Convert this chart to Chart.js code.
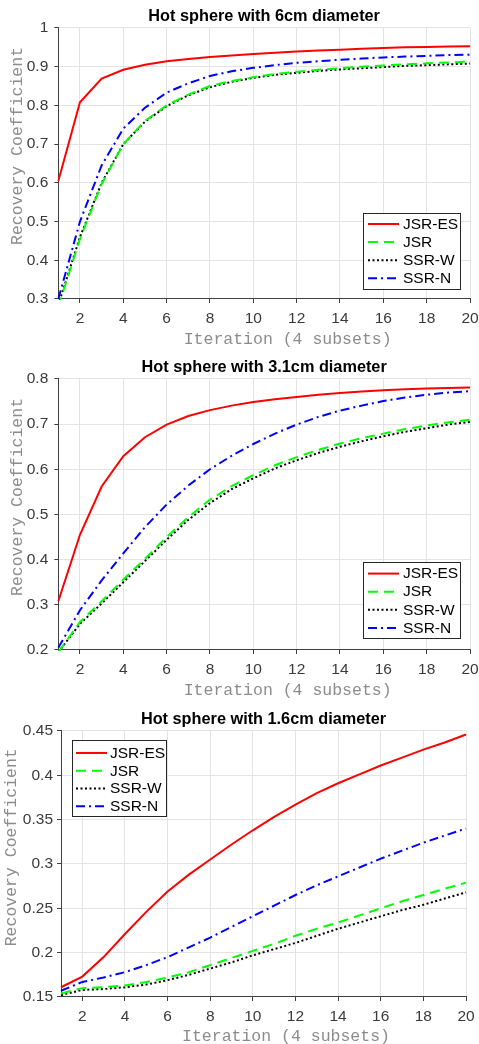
<!DOCTYPE html>
<html><head><meta charset="utf-8">
<script src="https://cdn.jsdelivr.net/npm/chart.js@4.4.1/dist/chart.umd.min.js"></script>
<style>
html,body{margin:0;padding:0;background:#fff;overflow:hidden;width:479px;height:1044px;position:relative;}
canvas{position:absolute;left:0;}
</style></head><body>
<canvas id="c1" width="479" height="350" style="top:0px"></canvas>
<canvas id="c2" width="479" height="350" style="top:351.3px"></canvas>
<canvas id="c3" width="479" height="345" style="top:702.7px"></canvas>
<script>
// ---------- data ----------
const iterations = [1,2,3,4,5,6,7,8,9,10,11,12,13,14,15,16,17,18,19,20];
const xTickValues = [2,4,6,8,10,12,14,16,18,20];
const seriesNames = ['JSR-ES','JSR','SSR-W','SSR-N'];
const chartTitles = ['Hot sphere with 6cm diameter','Hot sphere with 3.1cm diameter','Hot sphere with 1.6cm diameter'];
const xAxisTitle = 'Iteration (4 subsets)';
const yAxisTitle = 'Recovery Coefficient';

// 6 cm sphere
const p1JsrEs = [0.605,0.808,0.869,0.892,0.905,0.914,0.920,0.925,0.929,0.933,0.936,0.939,0.942,0.944,0.946,0.948,0.950,0.951,0.952,0.953];
const p1Jsr   = [0.280,0.455,0.597,0.700,0.760,0.800,0.828,0.850,0.863,0.873,0.881,0.887,0.892,0.896,0.900,0.903,0.906,0.909,0.911,0.913];
const p1SsrW  = [0.285,0.460,0.600,0.700,0.758,0.798,0.826,0.847,0.861,0.871,0.879,0.884,0.889,0.893,0.896,0.899,0.902,0.904,0.906,0.908];
const p1SsrN  = [0.300,0.500,0.645,0.740,0.794,0.833,0.857,0.876,0.888,0.897,0.904,0.910,0.914,0.918,0.921,0.924,0.926,0.928,0.930,0.931];
const p1YTicks = [0.3,0.4,0.5,0.6,0.7,0.8,0.9,1];

// 3.1 cm sphere
const p2JsrEs = [0.308,0.455,0.562,0.629,0.671,0.699,0.718,0.731,0.741,0.749,0.755,0.760,0.765,0.769,0.772,0.775,0.777,0.779,0.780,0.781];
const p2Jsr   = [0.195,0.262,0.308,0.356,0.402,0.450,0.494,0.533,0.563,0.587,0.609,0.627,0.643,0.657,0.669,0.679,0.689,0.697,0.704,0.710];
const p2SsrW  = [0.195,0.258,0.303,0.350,0.397,0.444,0.488,0.525,0.556,0.580,0.602,0.620,0.636,0.650,0.662,0.673,0.683,0.691,0.699,0.705];
const p2SsrN  = [0.205,0.288,0.354,0.414,0.472,0.522,0.564,0.600,0.630,0.656,0.679,0.699,0.716,0.730,0.741,0.751,0.759,0.765,0.770,0.773];
const p2YTicks = [0.2,0.3,0.4,0.5,0.6,0.7,0.8];

// 1.6 cm sphere
const p3JsrEs = [0.161,0.173,0.195,0.221,0.246,0.269,0.288,0.305,0.322,0.338,0.353,0.367,0.380,0.391,0.401,0.411,0.420,0.429,0.437,0.446];
const p3Jsr   = [0.154,0.160,0.161,0.163,0.167,0.172,0.178,0.186,0.194,0.202,0.210,0.219,0.227,0.234,0.242,0.250,0.258,0.265,0.272,0.279];
const p3SsrW  = [0.152,0.158,0.159,0.161,0.164,0.169,0.175,0.182,0.189,0.197,0.204,0.211,0.219,0.227,0.234,0.241,0.248,0.254,0.261,0.268];
const p3SsrN  = [0.157,0.167,0.172,0.178,0.186,0.195,0.206,0.217,0.229,0.241,0.253,0.265,0.276,0.286,0.296,0.306,0.315,0.324,0.332,0.340];
const p3YTicks = [0.15,0.2,0.25,0.3,0.35,0.4,0.45];

// ---------- styling ----------
const lineStyles = [
  {color:'#ff0000', dash:[]},
  {color:'#00ff00', dash:[10,6]},
  {color:'#000000', dash:[2,2.5]},
  {color:'#0000ff', dash:[9,4,2,4]}
];
const SANS = '"Liberation Sans", Arial, sans-serif';
const MONO = '"Liberation Mono", "Courier New", monospace';

const boxLegend = {
  id:'boxLegend',
  afterDatasetsDraw(chart, args, o) {
    const ctx = chart.ctx, ca = chart.chartArea;
    const x0 = o.corner === 'br' ? ca.right - o.dx - o.w : ca.left + o.dx;
    const y0 = o.corner === 'br' ? ca.bottom - o.dy - o.h : ca.top + o.dy;
    ctx.save();
    ctx.fillStyle = '#fff';
    ctx.fillRect(x0, y0, o.w, o.h);
    ctx.strokeStyle = '#262626';
    ctx.lineWidth = 1;
    ctx.strokeRect(Math.round(x0) + 0.5, Math.round(y0) + 0.5, o.w, o.h);
    chart.data.datasets.forEach((ds, i) => {
      const y = y0 + o.firstRow + i * o.rowGap;
      ctx.strokeStyle = ds.borderColor;
      ctx.lineWidth = ds.borderWidth;
      ctx.setLineDash(ds.borderDash || []);
      ctx.beginPath();
      ctx.moveTo(x0 + o.lineStart, y);
      ctx.lineTo(x0 + o.lineEnd, y);
      ctx.stroke();
      ctx.setLineDash([]);
      ctx.fillStyle = '#000';
      ctx.font = '15.5px ' + SANS;
      ctx.textBaseline = 'middle';
      ctx.textAlign = 'left';
      ctx.fillText(ds.label, x0 + o.textStart, y + 0.5);
    });
    ctx.restore();
  }
};

// axis titles (placed like the original, slightly off-centre)
const axisTitles = {
  id:'axisTitles',
  afterDraw(chart, args, o) {
    const ctx = chart.ctx, ca = chart.chartArea;
    ctx.save();
    ctx.fillStyle = '#8c8c8c';
    ctx.font = '16.5px ' + MONO;
    ctx.textAlign = 'center';
    ctx.textBaseline = 'middle';
    ctx.fillText(xAxisTitle, (ca.left + ca.right) / 2 + o.xShift, ca.bottom + o.xDy);
    ctx.translate(o.yX, (ca.top + ca.bottom) / 2 + o.yShift);
    ctx.rotate(-Math.PI / 2);
    ctx.fillText(yAxisTitle, 0, 0);
    ctx.restore();
  }
};

function fmt(v){ return String(+v.toFixed(2)); }

function makeChart(id, title, series, yTicks, L) {
  const datasets = series.map((vals, i) => ({
    label: seriesNames[i],
    data: iterations.map((x, k) => ({x: x, y: vals[k]})),
    borderColor: lineStyles[i].color,
    borderDash: lineStyles[i].dash,
    borderWidth: 2,
    pointRadius: 0,
    tension: 0,
    fill: false,
    clip: 1
  }));
  return new Chart(document.getElementById(id), {
    type: 'line',
    data: {datasets},
    plugins: [boxLegend, axisTitles],
    options: {
      responsive: false,
      animation: false,
      devicePixelRatio: 1,
      layout: {padding: {left: 0, right: L.padRight, top: 0, bottom: 0}},
      plugins: {
        legend: {display: false},
        tooltip: {enabled: false},
        title: {
          display: true, text: title, color: '#000', fullSize: false,
          font: {family: SANS, size: 16.3, weight: 'bold', lineHeight: 1.2},
          padding: {top: 6.9, bottom: 1.5}
        },
        boxLegend: L.legend,
        axisTitles: L.titles
      },
      scales: {
        x: {
          type: 'linear', min: iterations[0], max: iterations[iterations.length - 1],
          afterBuildTicks: s => { s.ticks = xTickValues.map(v => ({value: v})); },
          afterFit: s => { s.height = 51; s.paddingLeft = 0; s.paddingRight = 0; },
          grid: {color: '#e3e3e3', lineWidth: 1, tickColor: '#404040', tickLength: 4, drawTicks: true},
          border: {display: true, color: '#404040', width: 1},
          ticks: {color: '#3a3a3a', font: {family: SANS, size: 15.5}, padding: 6.5, maxRotation: 0, autoSkip: false},
          title: {display: false}
        },
        y: {
          min: yTicks[0], max: yTicks[yTicks.length - 1],
          afterBuildTicks: s => { s.ticks = yTicks.map(v => ({value: v})); },
          afterFit: s => { s.width = L.left; },
          grid: {color: '#e3e3e3', lineWidth: 1, tickColor: '#404040', tickLength: 4, drawTicks: true},
          border: {display: true, color: '#404040', width: 1},
          ticks: {color: '#3a3a3a', font: {family: SANS, size: 15.5}, padding: L.yTickPad, autoSkip: false,
                  callback: v => fmt(v)},
          title: {display: false}
        }
      }
    }
  });
}

const legendRight = (dy) => ({corner: 'br', dx: 10, dy: dy, w: 97, h: 76, firstRow: 11.3, rowGap: 18.1, lineStart: 5, lineEnd: 36, textStart: 40});
const titlesTop = {xShift: 23.5, xDy: 40.5, yX: 17.5, yShift: -17.5};

makeChart('c1', chartTitles[0], [p1JsrEs, p1Jsr, p1SsrW, p1SsrN], p1YTicks,
  {left: 58.3, padRight: 9, yTickPad: 6, titles: titlesTop, legend: legendRight(10.3)});
makeChart('c2', chartTitles[1], [p2JsrEs, p2Jsr, p2SsrW, p2SsrN], p2YTicks,
  {left: 58.3, padRight: 9, yTickPad: 6, titles: titlesTop, legend: legendRight(11.7)});
makeChart('c3', chartTitles[2], [p3JsrEs, p3Jsr, p3SsrW, p3SsrN], p3YTicks,
  {left: 61, padRight: 13, yTickPad: 4, titles: {xShift: 22.5, xDy: 39.3, yX: 12, yShift: -16.7},
   legend: {corner: 'tl', dx: 11, dy: 9.3, w: 94, h: 76, firstRow: 12.7, rowGap: 17.8, lineStart: 4, lineEnd: 35, textStart: 38}});
</script>
</body></html>
